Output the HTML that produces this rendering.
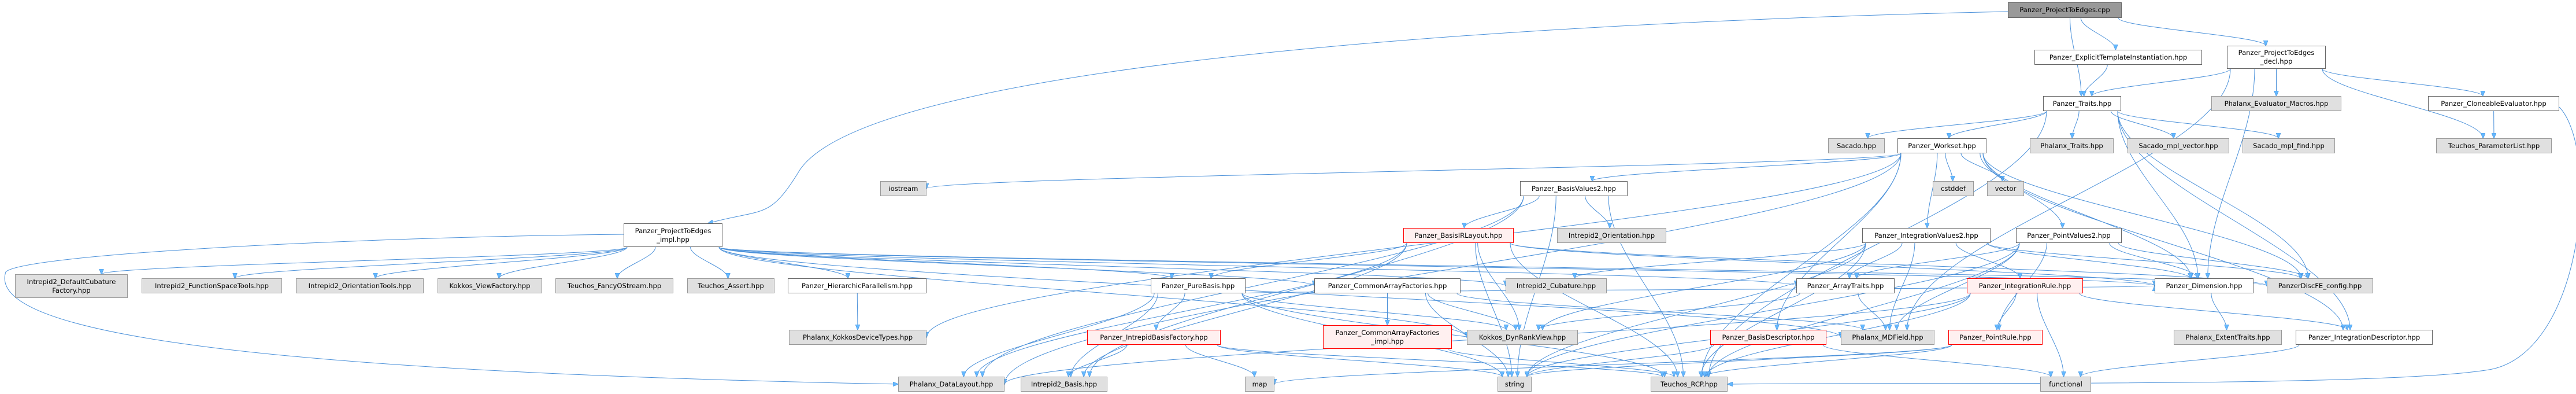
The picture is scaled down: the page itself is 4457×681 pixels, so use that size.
<!DOCTYPE html>
<html><head><meta charset="utf-8">
<style>
html,body{margin:0;padding:0;background:#fff;}
#c{position:relative;width:4457px;height:681px;overflow:hidden;}
.n{position:absolute;box-sizing:border-box;border:1px solid #666;background:#fff;font-family:"DejaVu Sans","Liberation Sans",sans-serif;font-size:11.6px;color:#000;display:flex;align-items:center;justify-content:center;text-align:center;line-height:15px;white-space:nowrap;z-index:2;}
.g{background:#e0e0e0;border-color:#999;}
.r{background:#fff0f0;border-color:#f00;}
.k{background:#999;border-color:#666;}
svg{position:absolute;left:0;top:0;z-index:1;}
</style></head><body>
<div id="c">
<svg id="s" width="4457" height="681" viewBox="0 0 4457 681">
<defs><marker id="a" markerWidth="10" markerHeight="8" refX="9" refY="4" orient="auto" markerUnits="userSpaceOnUse"><path d="M0,0 L10,4 L0,8 z" fill="#63b8ff" stroke="#4a90d9" stroke-width="0.6"/></marker></defs>
<g id="e" fill="none" stroke="#4a90d9" stroke-width="1"></g>
</svg>
<div class="n k" id="cpp" style="left:3474px;top:4px;width:197px;height:27px">Panzer_ProjectToEdges.cpp</div>
<div class="n" id="eti" style="left:3520px;top:86px;width:290px;height:26px">Panzer_ExplicitTemplateInstantiation.hpp</div>
<div class="n" id="decl" style="left:3853px;top:79px;width:171px;height:40px">Panzer_ProjectToEdges<br>_decl.hpp</div>
<div class="n" id="traits" style="left:3535px;top:166px;width:135px;height:26px">Panzer_Traits.hpp</div>
<div class="n g" id="macros" style="left:3826px;top:166px;width:225px;height:26px">Phalanx_Evaluator_Macros.hpp</div>
<div class="n" id="clone" style="left:4201px;top:166px;width:227px;height:26px">Panzer_CloneableEvaluator.hpp</div>
<div class="n g" id="sacado" style="left:3163px;top:239px;width:98px;height:26px">Sacado.hpp</div>
<div class="n" id="workset" style="left:3283px;top:239px;width:154px;height:26px">Panzer_Workset.hpp</div>
<div class="n g" id="phxtr" style="left:3512px;top:239px;width:145px;height:26px">Phalanx_Traits.hpp</div>
<div class="n g" id="mplv" style="left:3681px;top:239px;width:176px;height:26px">Sacado_mpl_vector.hpp</div>
<div class="n g" id="mplf" style="left:3880px;top:239px;width:160px;height:26px">Sacado_mpl_find.hpp</div>
<div class="n g" id="plist" style="left:4215px;top:239px;width:200px;height:26px">Teuchos_ParameterList.hpp</div>
<div class="n g" id="iostream" style="left:1523px;top:313px;width:80px;height:26px">iostream</div>
<div class="n" id="bv2" style="left:2630px;top:313px;width:186px;height:26px">Panzer_BasisValues2.hpp</div>
<div class="n g" id="cstddef" style="left:3344px;top:313px;width:71px;height:26px">cstddef</div>
<div class="n g" id="vector" style="left:3438px;top:313px;width:64px;height:26px">vector</div>
<div class="n r" id="birl" style="left:2428px;top:394px;width:191px;height:26px">Panzer_BasisIRLayout.hpp</div>
<div class="n g" id="i2or" style="left:2694px;top:394px;width:189px;height:26px">Intrepid2_Orientation.hpp</div>
<div class="n" id="iv2" style="left:3222px;top:394px;width:222px;height:26px">Panzer_IntegrationValues2.hpp</div>
<div class="n" id="pv2" style="left:3488px;top:394px;width:183px;height:26px">Panzer_PointValues2.hpp</div>
<div class="n" id="impl" style="left:1079px;top:386px;width:171px;height:41px">Panzer_ProjectToEdges<br>_impl.hpp</div>
<div class="n g" id="defcub" style="left:26px;top:474px;width:195px;height:41px">Intrepid2_DefaultCubature<br>Factory.hpp</div>
<div class="n g" id="fst" style="left:245px;top:481px;width:243px;height:26px">Intrepid2_FunctionSpaceTools.hpp</div>
<div class="n g" id="ot" style="left:512px;top:481px;width:221px;height:26px">Intrepid2_OrientationTools.hpp</div>
<div class="n g" id="vf" style="left:757px;top:481px;width:181px;height:26px">Kokkos_ViewFactory.hpp</div>
<div class="n g" id="fos" style="left:961px;top:481px;width:204px;height:26px">Teuchos_FancyOStream.hpp</div>
<div class="n g" id="assert" style="left:1189px;top:481px;width:151px;height:26px">Teuchos_Assert.hpp</div>
<div class="n" id="hp" style="left:1363px;top:481px;width:240px;height:26px">Panzer_HierarchicParallelism.hpp</div>
<div class="n" id="pb" style="left:1991px;top:481px;width:164px;height:26px">Panzer_PureBasis.hpp</div>
<div class="n" id="caf" style="left:2274px;top:481px;width:253px;height:26px">Panzer_CommonArrayFactories.hpp</div>
<div class="n g" id="cub" style="left:2605px;top:481px;width:175px;height:26px">Intrepid2_Cubature.hpp</div>
<div class="n" id="at" style="left:3108px;top:481px;width:170px;height:26px">Panzer_ArrayTraits.hpp</div>
<div class="n r" id="ir" style="left:3403px;top:481px;width:201px;height:26px">Panzer_IntegrationRule.hpp</div>
<div class="n" id="dim" style="left:3728px;top:481px;width:171px;height:26px">Panzer_Dimension.hpp</div>
<div class="n g" id="disc" style="left:3922px;top:481px;width:184px;height:26px">PanzerDiscFE_config.hpp</div>
<div class="n g" id="kdt" style="left:1365px;top:570px;width:238px;height:26px">Phalanx_KokkosDeviceTypes.hpp</div>
<div class="n r" id="ibf" style="left:1881px;top:570px;width:231px;height:26px">Panzer_IntrepidBasisFactory.hpp</div>
<div class="n r" id="cafi" style="left:2289px;top:562px;width:223px;height:41px">Panzer_CommonArrayFactories<br>_impl.hpp</div>
<div class="n g" id="drv" style="left:2538px;top:570px;width:192px;height:26px">Kokkos_DynRankView.hpp</div>
<div class="n r" id="bd" style="left:2959px;top:570px;width:201px;height:26px">Panzer_BasisDescriptor.hpp</div>
<div class="n g" id="mdf" style="left:3185px;top:570px;width:162px;height:26px">Phalanx_MDField.hpp</div>
<div class="n r" id="pr" style="left:3371px;top:570px;width:163px;height:26px">Panzer_PointRule.hpp</div>
<div class="n g" id="et" style="left:3761px;top:570px;width:187px;height:26px">Phalanx_ExtentTraits.hpp</div>
<div class="n" id="id" style="left:3972px;top:570px;width:237px;height:26px">Panzer_IntegrationDescriptor.hpp</div>
<div class="n g" id="dl" style="left:1554px;top:651px;width:184px;height:26px">Phalanx_DataLayout.hpp</div>
<div class="n g" id="i2b" style="left:1766px;top:651px;width:150px;height:26px">Intrepid2_Basis.hpp</div>
<div class="n g" id="map" style="left:2154px;top:651px;width:51px;height:26px">map</div>
<div class="n g" id="str" style="left:2591px;top:651px;width:59px;height:26px">string</div>
<div class="n g" id="rcp" style="left:2856px;top:651px;width:133px;height:26px">Teuchos_RCP.hpp</div>
<div class="n g" id="fun" style="left:3530px;top:651px;width:88px;height:26px">functional</div>
</div>
<script>
(function(){
var G=document.getElementById('e'),ns='http://www.w3.org/2000/svg';
function b(id){var d=document.getElementById(id);var l=parseFloat(d.style.left),t=parseFloat(d.style.top),w=parseFloat(d.style.width),h=parseFloat(d.style.height);return{l:l,t:t,r:l+w,b:t+h,cx:l+w/2,cy:t+h/2};}
function P(d){var p=document.createElementNS(ns,'path');p.setAttribute('d',d);p.setAttribute('marker-end','url(#a)');G.appendChild(p);}
function cl(v,a){return Math.max(-a,Math.min(a,v));}
function E(s,t){var A=b(s),B=b(t);
 var dx=B.cx-A.cx;
 var sx=A.cx+cl(dx*0.3,(A.r-A.l)/2-6);
 var ex=B.cx+cl(-dx*0.05,(B.r-B.l)/2-8);
 var sy=A.b,ey=B.t;
 if(Math.abs(dx)>1200){ey=B.cy;ex=dx>0?B.l:B.r;}
 var m=(ey-sy)*0.35;
 P('M'+sx+','+sy+' C'+sx+','+(sy+m)+' '+ex+','+(ey-m)+' '+ex+','+ey);
}
var L={cpp:['eti','decl','traits'],eti:['traits'],decl:['traits','macros','clone','plist','dim','mdf'],
clone:['plist'],traits:['sacado','workset','phxtr','mplv','mplf','dim','disc','rcp','id'],
workset:['iostream','bv2','cstddef','vector','iv2','pv2','dim','disc','rcp','kdt','dl','bd','id'],
bv2:['birl','i2or','rcp','dl','i2b','str'],birl:['pb','drv','str','rcp','dl','i2b','dim','disc'],
impl:['defcub','fst','ot','vf','fos','assert','hp','pb','caf','cub','dim','disc','at','mdf','drv'],
hp:['kdt'],pb:['ibf','drv','str','rcp','dl','i2b','dim'],caf:['cafi','drv','str','mdf'],cafi:['rcp'],
ibf:['i2b','map','str','rcp'],iv2:['at','mdf','ir','dim','disc','cub','rcp','drv','str'],
pv2:['at','pr','dim','disc','mdf','rcp','str'],at:['mdf','drv'],ir:['pr','id','rcp','str','dl','fun'],
dim:['et'],pr:['rcp','str','map'],bd:['fun','str'],id:['fun']};
for(var k in L)L[k].forEach(function(t){E(k,t);});
P('M3474,20 C3000,30 1500,80 1380,300 C1330,380 1320,360 1225,386');
P('M1079,405 C600,410 40,440 10,470 C-20,560 300,640 1554,664');
P('M4428,185 C4500,260 4470,620 4300,640 C4100,670 3300,660 2989,664');
})();
</script>
</body></html>
